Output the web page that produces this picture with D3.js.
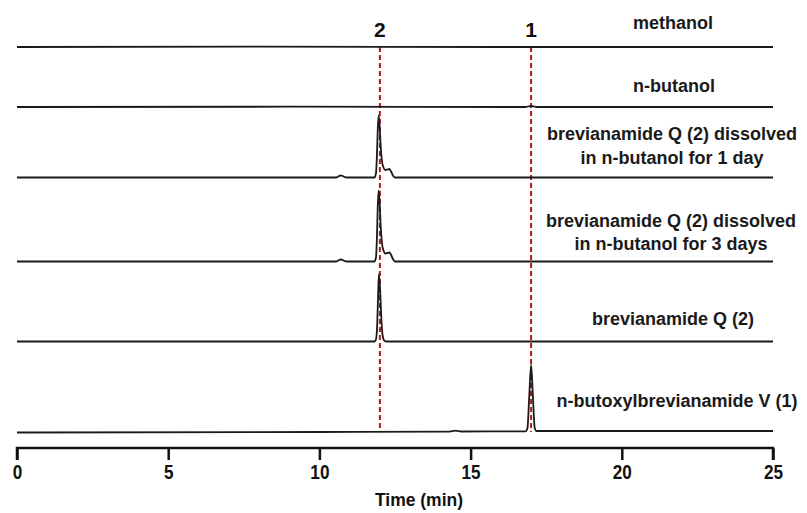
<!DOCTYPE html>
<html>
<head>
<meta charset="utf-8">
<script src="https://cdn.jsdelivr.net/npm/d3@7"></script>
<style>
	body { margin: 0; background: #fff; }
	svg { display: block; }
	.trace { fill: none; stroke: #1a1a1a; stroke-width: 1.8; stroke-linejoin: round; }
	.lbl { font-family: "Liberation Sans", Arial, sans-serif; font-weight: bold; font-size: 18px; fill: #1a1a1a; }
	.cmp { font-family: "Liberation Sans", Arial, sans-serif; font-weight: bold; font-size: 21px; fill: #111; }
	.ax text { font-family: "Liberation Sans", Arial, sans-serif; font-weight: bold; font-size: 19.5px; fill: #111; }
	.ttl { font-family: "Liberation Sans", Arial, sans-serif; font-weight: bold; font-size: 17.5px; fill: #111; }
</style>
</head>
<body>
<div id="chart"></div>
<script>
// traces, top to bottom
var names= ["methanol", "n-butanol",
	"brevianamide Q (2) dissolved\nin n-butanol for 1 day",
	"brevianamide Q (2) dissolved\nin n-butanol for 3 days",
	"brevianamide Q (2)",
	"n-butoxylbrevianamide V (1)"];

// vertical stacking offset of each trace (a.u.)
var offsets= [384, 324, 253.5, 169.5, 89.5, 0];

// [time (min), signal (a.u.)]
var tr_methanol= [[0,0],[8,0.3],[16,0],[25,0]];
var tr_butanol= [[0,0],[9,0.3],[16.8,0],[17,1],[17.2,0],[25,0]];
var tr_1day= [[0,0],[10.55,0],[10.65,1.5],[10.72,2],[10.8,1],[10.9,0],[11.82,0],[11.87,4],[11.9,20],[11.93,48],
	[11.96,62],[11.99,52],[12.03,30],[12.07,16],[12.12,10],[12.18,7.5],[12.25,8],[12.31,8.5],[12.37,6],[12.43,2],[12.5,0],[25,0]];
var tr_3day= [[0,0],[10.55,0],[10.65,1.5],[10.72,2],[10.8,1],[10.9,0],[11.82,0],[11.87,4],[11.9,22],[11.93,55],
	[11.96,71],[11.99,60],[12.03,34],[12.07,18],[12.12,11],[12.18,8],[12.25,8.5],[12.32,9],[12.38,6],[12.44,2],[12.5,0],[25,0]];
var tr_brevQ= [[0,0],[11.82,0],[11.87,2],[11.91,16],[11.94,45],[11.97,67.5],[12.01,50],[12.05,22],[12.09,6],[12.14,1],[12.2,0],[25,0]];
var tr_butoxyl= [[0,-1.5],[10,-1],[14.3,-0.6],[14.5,0.3],[14.7,-0.5],[16.82,-0.3],[16.88,3],[16.94,35],[17,66],[17.06,35],
	[17.12,3],[17.18,0],[25,0]];

var traces= [tr_methanol, tr_butanol, tr_1day, tr_3day, tr_brevQ, tr_butoxyl];

// compound markers
var marks= [{t: 12.0, name: "2"}, {t: 17.0, name: "1"}];

var x_ticks= [0, 5, 10, 15, 20, 25];


function draw_chart(view) {

	var width= 807;
	var height= 513;

	var svg= d3.select("#" + view)
		.append("svg")
		.attr("width", width)
		.attr("height", height);

	var x= d3.scaleLinear().domain([0, 25]).range([17, 773]);
	var y= d3.scaleLinear().domain([0, 400]).range([431, 31]);

	// dashed markers behind traces
	svg.selectAll("line.mark")
		.data(marks)
		.enter().append("line")
			.attr("class", "mark")
			.attr("x1", function(d) { return x(d.t); })
			.attr("x2", function(d) { return x(d.t); })
			.attr("y1", y(offsets[0]))
			.attr("y2", y(-1))
			.attr("stroke", "#b8151d")
			.attr("stroke-width", 2)
			.attr("stroke-dasharray", "5,3");

	svg.selectAll("text.cmp")
		.data(marks)
		.enter().append("text")
			.attr("class", "cmp")
			.attr("x", function(d) { return x(d.t); })
			.attr("y", 37)
			.attr("text-anchor", "middle")
			.text(function(d) { return d.name; });

	var line= d3.line().curve(d3.curveMonotoneX);

	traces.forEach(function(tr, i) {
		svg.append("path")
			.attr("class", "trace")
			.attr("d", line(tr.map(function(p) { return [x(p[0]), y(p[1]+ offsets[i])]; })));
	});

	// labels: centre x and lift above each baseline, in px
	var lab_x= [673, 674, 672, 671, 673, 677];
	var lift= [18.5, 15.5, 14, 12, 17, 24.5];
	var line_h= [0, 0, 24, 23, 0, 0];
	names.forEach(function(n, i) {
		var rows= n.split("\n");
		var base= y(offsets[i])- lift[i];
		var t= svg.append("text")
			.attr("class", "lbl")
			.attr("text-anchor", "middle");
		rows.forEach(function(r, k) {
			t.append("tspan")
				.attr("x", lab_x[i])
				.attr("y", base- (rows.length- 1- k)*line_h[i])
				.text(r);
		});
	});

	// time axis
	var ax= svg.append("g")
		.attr("class", "ax")
		.attr("transform", "translate(0,448)")
		.call(d3.axisBottom(x).tickValues(x_ticks).tickSize(12).tickSizeOuter(12).tickFormat(d3.format("d")));
	ax.select(".domain").attr("stroke", "#111").attr("stroke-width", 2.5).attr("d", "M" + x(0) + ",12V0H" + x(25) + "V12");
	ax.selectAll(".tick line").attr("stroke", "#111").attr("stroke-width", 2.5);
	ax.selectAll(".tick text").attr("y", 31).attr("dy", 0).attr("transform", "scale(0.88,1)");

	svg.append("text")
		.attr("class", "ttl")
		.attr("x", 419)
		.attr("y", 506)
		.attr("text-anchor", "middle")
		.text("Time (min)");
}

draw_chart("chart");
</script>
</body>
</html>
